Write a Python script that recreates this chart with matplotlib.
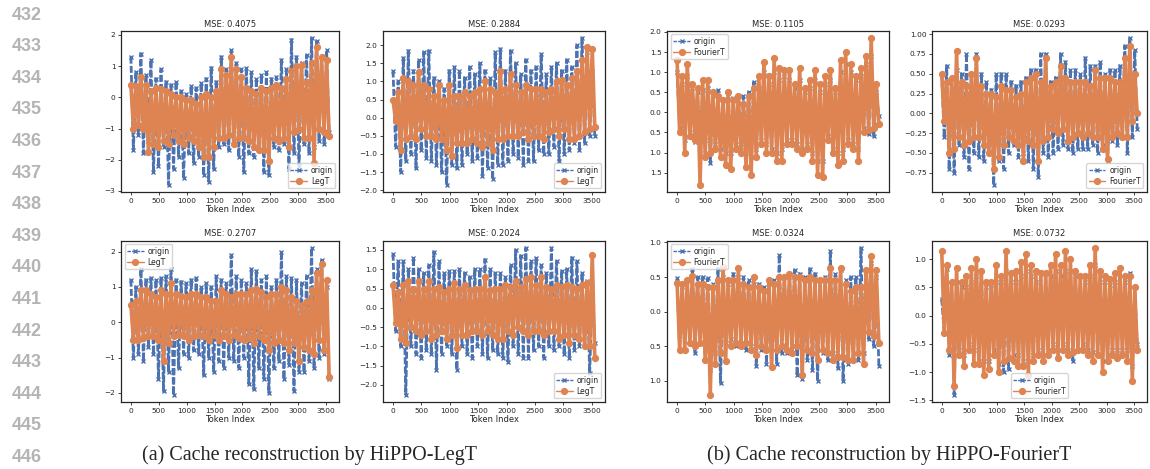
import numpy as np
import matplotlib
matplotlib.use("Agg")
import matplotlib.pyplot as plt
import seaborn as sns

# token positions (every 45th token of the cache)
tokens = np.arange(0, 3600, 45)

titles = ["MSE: 0.4075", "MSE: 0.2884", "MSE: 0.1105", "MSE: 0.0293",
          "MSE: 0.2707", "MSE: 0.2024", "MSE: 0.0324", "MSE: 0.0732"]
methods = ["LegT", "LegT", "FourierT", "FourierT",
           "LegT", "LegT", "FourierT", "FourierT"]
legend_locs = ["lower right", "lower right", "upper left", "lower right",
               "upper left", "lower right", "upper left", "lower center"]

# y tick labels as printed in the figure (the FourierT ones lost their minus sign)
ticks_p3 = [-1.5, -1.0, -0.5, 0.0, 0.5, 1.0, 1.5, 2.0]
labels_p3 = ["1.5", "1.0", "0.5", "0.0", "0.5", "1.0", "1.5", "2.0"]
ticks_p7 = [-1.0, -0.5, 0.0, 0.5, 1.0]
labels_p7 = ["1.0", "0.5", "0.0", "0.5", "1.0"]

# origin / reconstruction values (peak, trough, peak, trough ...)
origin_1 = [1.3, -1.7, 0.8, -1.2, 1.4, -1.8, 0.7, -1.4, 1.2, -2.4, 0.6, -2.2, 0.9, -1.6, 0.5, -2.8, 0.4, -2.3, 0.5, -1.9,
            0.2, -2.6, 0.1, -1.8, 0.35, -2.1, 0.3, -1.9, 0.45, -2.5, 0.6, -2.7, 0.95, -2.3, 0.5, -1.6, 1.3, -1.5, 0.9, -1.7,
            1.5, -1.4, 1.1, -1.9, 0.9, -2.4, 0.95, -1.8, 0.8, -1.9, 0.6, -1.7, 0.7, -2.4, 0.8, -2.5, 0.6, -1.6, 0.65, -1.7,
            1.2, -1.5, 0.9, -2.3, 1.85, -1.8, 1.3, -2.2, 1.1, -1.5, 1.35, -1.8, 1.9, -1.6, 1.8, -1.4, 1.3, -1.5, 1.5, -1.1]
recon_1 = [0.4, -1.0, 0.35, -0.9, 0.65, -1.0, 0.4, -1.75, 0.2, -1.5, 0.3, -1.6, 0.25, -1.4, 0.2, -1.5, 0.1, -1.2, 0.0, -1.4,
           0.0, -1.5, -0.1, -1.3, -0.1, -1.4, -0.2, -1.6, 0.0, -1.9, 0.1, -1.9, 0.0, -1.6, 0.2, -1.3, 0.9, -1.3, 0.7, -1.2,
           1.3, -1.5, 0.9, -1.3, 0.65, -1.3, 0.3, -1.4, 0.2, -1.6, 0.1, -1.7, 0.3, -1.7, 0.2, -2.05, 0.3, -1.3, 0.4, -1.4,
           0.3, -1.3, 0.6, -1.6, 0.85, -1.1, 1.0, -1.0, 1.05, -1.3, 0.5, -1.3, 1.1, -2.1, 1.6, -1.0, 1.3, -1.1, 1.2, -1.25]

origin_2 = [1.3, -0.8, 1.0, -1.5, 1.65, -1.2, 1.85, -1.0, 1.3, -1.4, 1.6, -0.9, 1.8, -1.1, 1.85, -1.2, 1.1, -1.3, 1.0, -1.5,
            0.8, -1.85, 1.3, -1.3, 1.4, -1.4, 1.3, -1.3, 1.1, -1.0, 1.4, -1.2, 1.2, -1.1, 1.5, -1.6, 1.3, -1.4, 1.1, -1.7,
            1.8, -1.3, 1.9, -1.3, 1.3, -1.2, 1.85, -1.0, 1.5, -1.1, 1.2, -1.3, 1.6, -1.2, 1.3, -1.2, 1.4, -0.9, 1.75, -1.0,
            1.2, -1.0, 1.4, -0.8, 1.5, -1.2, 1.3, -1.0, 1.6, -0.9, 1.4, -0.7, 2.0, -0.9, 2.2, -0.7, 1.8, -0.5, 1.3, -0.5]
recon_2 = [0.5, -0.1, 0.7, -0.9, 1.1, -0.6, 1.0, -0.5, 0.9, -0.6, 1.25, -0.3, 0.9, -0.5, 0.8, -0.5, 0.6, -0.6, 0.9, -0.6,
           0.5, -0.9, 0.9, -1.05, 0.6, -0.7, 0.6, -0.7, 0.7, -0.7, 0.6, -0.6, 0.7, -0.7, 0.8, -0.8, 1.0, -0.7, 0.8, -0.9,
           0.7, -0.6, 1.3, -0.6, 0.8, -0.5, 1.2, -0.5, 0.9, -0.5, 0.7, -0.4, 0.9, -0.6, 0.8, -0.5, 0.8, -0.5, 0.8, -0.6,
           0.7, -0.4, 0.8, -0.3, 1.0, -0.5, 1.05, -0.3, 0.9, -0.6, 1.1, -0.6, 1.3, -0.5, 1.6, -0.4, 1.95, -0.3, 1.9, -0.25]

origin_3 = [1.0, -0.4, 0.7, -0.7, 0.9, -0.5, 0.6, -0.75, 0.5, -1.0, 0.55, -0.7, 0.6, -1.25, 0.5, -0.8, 0.55, -0.9, 0.3, -1.0,
            0.4, -1.0, 0.35, -0.8, 0.3, -0.85, 0.4, -1.0, 0.5, -1.1, 0.75, -0.9, 0.6, -0.7, 1.0, -0.8, 0.7, -0.9, 1.0, -1.0,
            0.8, -0.9, 0.9, -0.7, 0.8, -0.7, 0.6, -0.8, 0.8, -0.9, 0.5, -0.8, 0.6, -1.0, 0.8, -1.2, 0.5, -1.2, 0.7, -0.6,
            0.8, -0.9, 0.5, -1.0, 1.0, -0.9, 1.2, -0.7, 1.0, -0.8, 0.8, -0.9, 0.9, -0.4, 1.2, -0.55, 1.4, -0.6, 0.5, -0.1]
recon_3 = [1.3, -0.5, 0.9, -1.0, 1.2, -0.6, 0.7, -0.7, 0.6, -1.8, 0.8, -1.1, 0.8, -1.0, 0.5, -0.9, 0.4, -1.1, 0.3, -1.3,
           0.5, -1.4, 0.3, -0.9, 0.4, -1.0, 0.2, -1.35, 0.4, -1.55, 0.6, -1.1, 0.9, -0.8, 1.25, -1.0, 0.9, -1.0, 1.35, -1.2,
           1.1, -1.2, 1.05, -0.8, 1.05, -0.8, 0.7, -0.9, 1.1, -1.0, 0.6, -0.9, 0.8, -1.2, 1.05, -1.55, 0.7, -1.6, 0.9, -0.7,
           1.05, -1.0, 0.6, -1.3, 1.3, -1.2, 1.5, -0.8, 1.2, -0.9, 0.9, -1.2, 1.1, -0.5, 1.4, -0.45, 1.85, -0.4, 0.7, -0.3]

origin_4 = [0.5, -0.3, 0.6, -0.7, 0.45, -0.75, 0.55, -0.4, 0.5, -0.55, 0.75, -0.7, 0.5, -0.5, 0.75, -0.55, 0.5, -0.6, 0.4, -0.5,
            0.3, -0.9, 0.5, -0.6, 0.5, -0.7, 0.5, -0.5, 0.4, -0.4, 0.35, -0.55, 0.4, -0.5, 0.45, -0.6, 0.55, -0.7, 0.55, -0.8,
            0.75, -0.5, 0.75, -0.55, 0.4, -0.5, 0.45, -0.45, 0.75, -0.4, 0.65, -0.45, 0.55, -0.5, 0.55, -0.45, 0.5, -0.45, 0.7, -0.45,
            0.6, -0.4, 0.6, -0.5, 0.65, -0.4, 0.5, -0.6, 0.55, -0.35, 0.55, -0.4, 0.6, -0.3, 0.85, -0.5, 0.95, -0.3, 0.8, -0.2]
recon_4 = [0.5, -0.1, 0.4, -0.5, 0.45, -0.45, 0.78, -0.3, 0.4, -0.4, 0.35, -0.35, 0.5, -0.3, 0.7, -0.3, 0.35, -0.4, 0.25, -0.5,
           0.25, -0.7, 0.2, -0.55, 0.35, -0.4, 0.3, -0.3, 0.3, -0.35, 0.2, -0.4, 0.25, -0.6, 0.4, -0.35, 0.45, -0.4, 0.5, -0.6,
           0.4, -0.35, 0.7, -0.3, 0.35, -0.2, 0.4, -0.25, 0.6, -0.2, 0.45, -0.35, 0.4, -0.3, 0.4, -0.25, 0.4, -0.3, 0.4, -0.25,
           0.35, -0.3, 0.55, -0.3, 0.45, -0.45, 0.45, -0.58, 0.45, -0.3, 0.4, -0.25, 0.4, -0.3, 0.7, -0.3, 0.85, -0.1, 0.5, 0.0]

origin_5 = [1.2, -1.0, 1.0, -0.9, 1.5, -1.1, 1.2, -0.7, 1.25, -0.9, 1.2, -1.6, 1.25, -1.95, 1.3, -1.4, 1.5, -2.05, 1.2, -1.3,
            1.15, -0.9, 1.1, -1.0, 1.2, -0.8, 1.25, -0.9, 1.0, -1.5, 1.1, -1.0, 1.0, -1.4, 1.3, -1.1, 1.2, -1.3, 1.1, -1.0,
            1.9, -1.1, 1.3, -1.3, 1.2, -1.0, 1.1, -1.75, 1.5, -1.9, 1.45, -1.3, 1.2, -1.6, 1.3, -2.0, 1.0, -1.3, 1.2, -1.1,
            2.0, -1.6, 1.3, -1.2, 1.25, -1.95, 1.2, -1.4, 1.1, -1.4, 1.3, -1.1, 2.1, -1.3, 1.5, -1.0, 1.75, -0.9, 1.0, -1.6]
recon_5 = [0.5, -0.5, 0.6, -0.5, 0.9, -0.45, 0.9, -0.4, 0.8, -0.4, 0.7, -0.5, 0.9, -1.1, 0.8, -0.6, 1.1, -0.4, 0.8, -0.35,
           0.75, -0.4, 0.7, -0.5, 0.8, -0.4, 0.8, -0.35, 0.7, -0.4, 0.7, -0.5, 0.6, -0.35, 0.6, -0.5, 0.9, -0.4, 0.8, -0.5,
           0.7, -0.35, 0.8, -0.45, 0.8, -0.5, 0.8, -0.45, 0.9, -0.6, 0.95, -0.4, 0.85, -0.5, 0.7, -0.8, 0.8, -0.6, 0.8, -0.5,
           1.0, -0.6, 0.9, -0.8, 0.7, -0.6, 0.6, -1.1, 0.5, -0.7, 0.6, -0.8, 0.9, -0.9, 1.4, -0.5, 1.65, -0.8, 1.2, -1.55]

origin_6 = [1.4, -0.6, 1.2, -1.0, 1.2, -2.25, 1.0, -1.0, 1.3, -1.2, 1.0, -1.3, 0.9, -1.1, 1.1, -1.2, 1.45, -1.6, 1.2, -1.2,
            0.9, -1.0, 0.95, -1.2, 0.95, -1.6, 1.0, -1.0, 0.9, -1.2, 0.8, -1.3, 1.0, -1.0, 1.0, -1.2, 1.25, -1.3, 1.0, -1.1,
            0.9, -1.2, 0.9, -1.3, 0.8, -1.4, 1.1, -1.0, 1.5, -1.2, 1.35, -1.3, 1.55, -1.3, 1.2, -1.1, 1.3, -1.0, 1.1, -1.3,
            0.9, -1.0, 1.55, -1.1, 1.2, -1.0, 0.95, -1.2, 1.0, -1.3, 1.3, -1.1, 1.2, -1.0, 0.9, -1.0, 0.7, -1.7, 0.6, -0.9]
recon_6 = [0.6, -0.4, 0.4, -0.8, 0.6, -0.9, 0.7, -0.5, 0.5, -0.6, 0.7, -0.7, 0.5, -0.6, 0.7, -0.8, 0.5, -0.7, 0.55, -0.6,
           0.4, -0.8, 0.5, -0.7, 0.65, -1.05, 0.5, -0.7, 0.6, -0.7, 0.45, -0.6, 0.5, -0.6, 0.5, -0.7, 0.8, -0.6, 0.45, -0.7,
           0.5, -0.8, 0.5, -0.8, 0.6, -0.6, 0.55, -0.7, 0.7, -0.5, 0.55, -0.6, 0.75, -0.7, 0.8, -0.6, 0.6, -0.6, 0.8, -0.7,
           0.55, -0.6, 0.5, -0.6, 0.6, -0.8, 0.55, -0.7, 0.6, -0.9, 0.55, -0.7, 0.5, -0.8, 0.6, -1.0, 0.65, -1.0, 1.38, -1.3]

origin_7 = [0.48, -0.55, 0.35, -0.55, 0.45, -0.45, 0.62, -0.6, 0.5, -0.45, 0.5, -0.55, 0.48, -0.85, 0.4, -0.6, 0.62, -1.03, 0.5, -0.45,
            0.4, -0.4, 0.55, -0.5, 0.5, -0.45, 0.5, -0.55, 0.45, -0.5, 0.4, -0.78, 0.4, -0.55, 0.35, -0.75, 0.4, -0.8, 0.45, -0.75,
            0.82, -0.6, 0.5, -0.6, 0.5, -0.5, 0.6, -0.92, 0.55, -0.97, 0.5, -0.7, 0.62, -0.85, 0.55, -1.0, 0.45, -0.6, 0.5, -0.7,
            0.87, -0.6, 0.55, -0.82, 0.6, -1.0, 0.45, -0.75, 0.5, -0.65, 0.5, -0.7, 0.92, -0.6, 0.6, -0.4, 0.7, -0.5, 0.5, -0.78]
recon_7 = [0.42, -0.55, 0.4, -0.55, 0.45, -0.45, 0.52, -0.5, 0.4, -0.45, 0.4, -0.7, 0.35, -1.2, 0.35, -0.75, 0.45, -0.6, 0.65, -0.72,
           0.45, -0.5, 0.45, -0.45, 0.63, -0.5, 0.4, -0.45, 0.35, -0.55, 0.5, -0.62, 0.35, -0.5, 0.3, -0.55, 0.45, -0.8, 0.4, -0.55,
           0.5, -0.5, 0.5, -0.55, 0.55, -0.6, 0.5, -0.5, 0.5, -0.92, 0.45, -0.55, 0.5, -0.6, 0.45, -0.7, 0.45, -0.55, 0.45, -0.6,
           0.63, -0.7, 0.45, -0.65, 0.63, -0.65, 0.4, -0.7, 0.3, -0.7, 0.35, -0.6, 0.35, -0.75, 0.6, -0.3, 0.8, -0.35, 0.6, -0.45]

origin_8 = [0.3, -0.3, 0.82, -0.7, 0.6, -1.4, 0.6, -0.6, 0.5, -0.7, 0.5, -0.5, 0.6, -0.6, 0.7, -0.8, 0.8, -0.8, 0.5, -0.8,
            0.55, -0.6, 0.6, -0.85, 0.6, -1.0, 0.8, -0.95, 0.6, -0.7, 0.6, -0.7, 0.7, -0.8, 0.8, -0.8, 0.7, -0.7, 0.6, -0.6,
            0.75, -0.7, 0.75, -0.6, 0.7, -0.5, 0.8, -0.6, 0.7, -0.5, 0.8, -0.6, 0.8, -0.8, 0.7, -0.6, 0.7, -0.5, 0.6, -0.6,
            0.7, -0.65, 0.9, -0.7, 0.6, -0.8, 0.6, -0.7, 0.55, -0.6, 0.6, -0.6, 0.85, -0.6, 0.6, -0.6, 0.75, -0.9, 0.5, -0.5]
recon_8 = [1.15, -0.3, 0.9, -0.6, 0.6, -1.25, 0.85, -0.7, 0.6, -0.9, 0.7, -0.6, 0.85, -0.85, 1.0, -0.85, 0.8, -1.05, 0.6, -0.95,
           0.6, -0.7, 0.9, -1.0, 0.7, -0.8, 1.15, -0.75, 0.75, -0.8, 0.8, -0.9, 0.95, -0.9, 1.1, -1.05, 0.9, -0.8, 0.8, -0.7,
           0.75, -0.8, 0.75, -0.7, 0.9, -0.6, 1.1, -0.75, 0.9, -0.6, 1.15, -0.7, 1.0, -0.65, 0.8, -0.6, 0.7, -0.6, 0.7, -0.7,
           0.9, -0.8, 1.2, -0.7, 0.8, -1.0, 0.7, -0.8, 0.65, -0.7, 0.75, -0.75, 0.85, -0.7, 0.7, -0.8, 0.7, -1.15, 0.5, -0.6]

origins = [origin_1, origin_2, origin_3, origin_4, origin_5, origin_6, origin_7, origin_8]
recons = [recon_1, recon_2, recon_3, recon_4, recon_5, recon_6, recon_7, recon_8]

sns.set_theme(style="ticks")
plt.rcParams['font.family'] = ['DejaVu Sans']
blue, orange = sns.color_palette("deep")[0], sns.color_palette("deep")[1]

fig = plt.figure(figsize=(11.5, 4.69), dpi=100)

# axes boxes in figure fractions
lefts = [0.1052, 0.3330, 0.5800, 0.8104]
widths = [0.1896, 0.1930, 0.1930, 0.1870]
bottoms = [0.5906, 0.1429]
height = 0.344

for i in range(8):
    row, col = i // 4, i % 4
    ax = fig.add_axes([lefts[col], bottoms[row], widths[col], height])
    ax.plot(tokens, origins[i], '--x', color=blue, lw=2.0, ms=3.5, mew=1.0,
            dashes=(2.5, 0.8), label='origin')
    ax.plot(tokens, recons[i], '-o', color=orange, lw=2.6, ms=4.2, label=methods[i])
    ax.set_title(titles[i], fontsize=6, pad=3)
    ax.set_xlabel('Token Index', fontsize=6, labelpad=1)
    ax.set_xticks([0, 500, 1000, 1500, 2000, 2500, 3000, 3500])
    ax.tick_params(labelsize=5.3, length=2.5, width=0.6, pad=1.5)
    for s in ax.spines.values():
        s.set_linewidth(0.9)
        s.set_color('#262626')
    if i == 2:
        ax.set_yticks(ticks_p3)
        ax.set_yticklabels(labels_p3)
    if i == 6:
        ax.set_yticks(ticks_p7)
        ax.set_yticklabels(labels_p7)
    leg = ax.legend(loc=legend_locs[i], fontsize=5.5, handlelength=2.2, borderpad=0.3,
                    labelspacing=0.3, handletextpad=0.5, fancybox=True)
    for h in leg.get_lines():
        h.set_linewidth(1.0)

# line numbers on the left margin
for j in range(15):
    fig.text(27 / 1150, 1 - (15 + 31.6 * j) / 469, str(432 + j), ha='center', va='center',
             fontsize=13, color='#b4b4b4', fontweight='bold', family='Liberation Sans')

# captions
fig.text(309 / 1150, 1 - 455 / 469, '(a) Cache reconstruction by HiPPO-LegT', ha='center', va='center',
         fontsize=14.5, family='Liberation Serif')
fig.text(889 / 1150, 1 - 455 / 469, '(b) Cache reconstruction by HiPPO-FourierT', ha='center', va='center',
         fontsize=14.5, family='Liberation Serif')

plt.savefig('out.png', dpi=100)
